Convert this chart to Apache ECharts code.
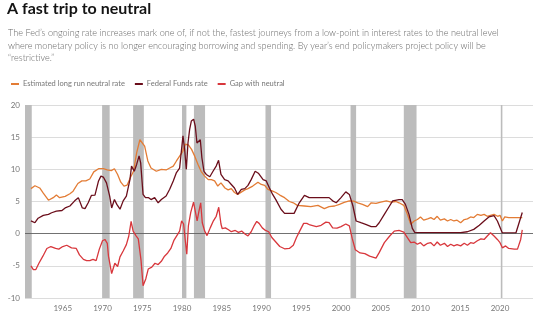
<!DOCTYPE html>
<html>
<head>
<meta charset="utf-8">
<script src="https://cdn.jsdelivr.net/npm/echarts@6/dist/echarts.min.js"></script>
<style>
html,body{margin:0;padding:0;background:#fff;}
#chart{width:546px;height:324px;}
</style>
</head>
<body>
<div id="chart"></div>
<script>
// ---- Data ----
const titleText = "A fast trip to neutral";
const subtitleLines = [
  "The Fed\u2019s ongoing rate increases mark one of, if not the, fastest journeys from a low-point in interest rates to the neutral level",
  "where monetary policy is no longer encouraging borrowing and spending. By year\u2019s end policymakers project policy will be",
  "\u201crestrictive.\u201d"
];
const seriesNames = ["Estimated long run neutral rate", "Federal Funds rate", "Gap with neutral"];
const xTickLabels = [1965, 1970, 1975, 1980, 1985, 1990, 1995, 2000, 2005, 2010, 2015, 2020];

const recessionStart = [1960.25, 1969.95, 1973.85, 1980.0, 1981.5, 1990.5, 2001.2, 2007.9, 2020.1];
const recessionEnd   = [1961.1, 1970.9, 1975.2, 1980.55, 1982.9, 1991.2, 2001.9, 2009.5, 2020.3];

const neutralX = [1961.0,1961.5,1962.1,1962.55,1963.2,1963.8,1964.2,1964.6,1965.3,1965.9,1966.3,1966.9,1967.4,1967.9,1968.4,1968.9,1969.5,1970.1,1970.6,1971.1,1971.5,1971.9,1972.3,1972.7,1973.1,1973.5,1973.9,1974.3,1974.7,1974.9,1975.3,1975.7,1976.1,1976.77,1977.4,1978.0,1978.45,1978.9,1979.3,1979.7,1980.1,1980.4,1980.8,1981.2,1981.6,1982.0,1982.4,1982.85,1983.3,1983.7,1984.1,1984.5,1984.9,1985.4,1985.8,1986.2,1986.6,1987.0,1987.5,1987.9,1988.3,1988.9,1989.55,1989.97,1990.4,1990.8,1991.4,1991.8,1992.3,1992.9,1993.5,1994.0,1994.5,1995.4,1996.2,1997.1,1997.9,1998.5,1999.2,1999.8,2000.4,2001.05,2001.6,2002.1,2002.7,2003.35,2003.8,2004.4,2005.0,2005.7,2006.3,2006.9,2007.3,2007.9,2008.35,2008.77,2009.2,2009.6,2010.0,2010.4,2010.9,2011.3,2011.7,2012.1,2012.5,2013.0,2013.4,2013.8,2014.2,2014.6,2015.05,2015.5,2015.9,2016.3,2016.7,2017.15,2017.6,2018.0,2018.4,2018.8,2019.25,2019.7,2020.0,2020.3,2020.6,2021.1,2021.8,2022.4,2022.8];
const neutralY = [7.0,7.45,7.1,6.3,5.2,5.6,6.0,5.6,5.8,6.2,6.6,7.8,8.2,8.2,8.5,9.6,10.1,10.1,9.9,9.8,10.1,9.2,8.0,7.4,7.55,8.7,9.7,12.6,14.6,14.7,13.6,11.3,10.2,9.7,10.0,9.9,10.2,10.5,11.3,12.05,12.8,13.9,13.8,13.1,12.05,10.8,9.7,8.95,8.4,8.4,8.2,7.4,7.9,7.1,6.8,7.0,6.4,6.1,6.5,6.8,7.0,7.4,8.0,7.65,7.5,6.9,6.6,6.4,6.0,5.6,5.0,4.8,4.4,4.3,4.2,4.4,3.9,4.2,4.3,4.55,4.85,5.1,5.05,4.8,4.55,4.2,4.8,4.7,4.9,5.1,4.9,5.0,4.8,4.4,3.0,1.45,1.97,2.2,2.6,2.1,2.3,2.5,2.2,2.7,2.1,2.3,1.97,2.2,1.97,2.1,1.7,2.2,2.3,2.6,2.5,3.0,2.85,3.0,2.7,2.85,3.0,2.7,2.85,1.97,2.6,2.5,2.5,2.5,2.5];

const fedX = [1961.0,1961.5,1961.9,1962.55,1963.2,1963.6,1964.2,1964.9,1965.3,1965.9,1966.5,1966.96,1967.46,1967.8,1968.2,1968.6,1969.05,1969.5,1969.8,1970.1,1970.5,1970.9,1971.15,1971.5,1971.8,1972.2,1972.6,1973.0,1973.45,1973.65,1974.0,1974.3,1974.6,1974.8,1975.1,1975.4,1975.8,1976.1,1976.56,1977.0,1977.4,1978.0,1978.45,1978.9,1979.3,1979.7,1979.9,1980.12,1980.33,1980.54,1980.75,1980.96,1981.17,1981.46,1981.67,1981.88,1982.1,1982.3,1982.5,1982.76,1983.05,1983.5,1983.9,1984.3,1984.6,1984.9,1985.36,1985.8,1986.2,1986.6,1987.0,1987.46,1987.9,1988.3,1988.7,1989.2,1989.6,1990.2,1990.6,1991.0,1991.4,1991.8,1992.45,1992.9,1994.1,1994.75,1995.4,1996.0,1997.1,1998.5,1998.95,1999.4,2000.0,2000.6,2001.05,2001.5,2001.9,2002.5,2003.1,2003.8,2004.4,2004.8,2005.45,2006.1,2006.5,2007.3,2007.7,2008.1,2008.55,2008.97,2009.27,2015.05,2015.9,2016.7,2017.4,2018.0,2018.6,2019.25,2019.67,2020.1,2020.3,2022.0,2022.4,2022.8];
const fedY = [2.0,1.7,2.4,2.85,3.0,3.25,3.5,3.6,4.0,4.3,5.1,5.6,4.0,3.9,4.8,5.95,6.0,8.2,8.95,8.8,7.9,5.85,4.0,5.3,4.55,3.8,5.1,5.85,8.4,10.5,9.7,10.8,12.1,11.0,6.1,5.6,5.6,5.3,5.6,4.8,5.3,5.85,6.9,8.2,9.5,10.2,12.6,15.2,13.1,10.0,14.1,16.2,17.5,17.8,16.7,14.1,14.4,14.6,11.8,9.7,9.2,8.85,9.7,10.5,11.4,9.2,8.4,8.2,7.65,7.1,6.1,6.9,7.0,7.5,8.4,9.7,9.4,8.4,8.2,7.1,6.1,5.3,3.8,3.15,3.15,4.8,5.95,5.6,5.6,5.6,5.1,4.8,5.6,6.5,6.1,4.3,1.97,1.7,1.45,1.1,1.1,1.7,3.0,4.3,5.1,5.3,5.3,4.55,3.0,0.83,0.2,0.15,0.3,0.67,1.3,1.97,2.6,2.8,1.97,0.67,0.1,0.1,1.7,3.3];

const gapX = [1961.0,1961.3,1961.6,1962.0,1962.5,1963.0,1963.5,1964.1,1964.5,1965.0,1965.5,1966.1,1966.7,1967.1,1967.6,1968.0,1968.4,1968.8,1969.2,1969.6,1970.0,1970.3,1970.6,1970.75,1971.15,1971.55,1971.9,1972.2,1972.6,1973.0,1973.3,1973.6,1973.85,1974.2,1974.5,1974.85,1975.1,1975.45,1975.75,1976.2,1976.6,1977.0,1977.4,1977.8,1978.2,1978.6,1979.0,1979.35,1979.7,1979.95,1980.2,1980.4,1980.6,1980.8,1981.1,1981.45,1981.65,1981.9,1982.1,1982.35,1982.55,1982.85,1983.15,1983.55,1983.95,1984.3,1984.62,1984.9,1985.05,1985.45,1985.85,1986.2,1986.7,1987.1,1987.5,1987.96,1988.3,1988.7,1989.1,1989.4,1989.7,1990.1,1990.5,1990.9,1991.3,1991.8,1992.3,1992.9,1993.5,1994.0,1994.4,1994.8,1995.3,1995.7,1996.1,1996.9,1997.5,1998.1,1998.5,1998.95,1999.5,2000.0,2000.6,2001.05,2001.4,2001.8,2002.4,2003.0,2003.6,2004.4,2004.8,2005.45,2006.1,2006.7,2007.3,2007.9,2008.35,2008.77,2009.2,2009.6,2010.0,2010.4,2010.9,2011.3,2011.7,2012.1,2012.5,2013.0,2013.4,2013.8,2014.2,2014.6,2015.05,2015.5,2015.9,2016.3,2016.7,2017.15,2017.6,2018.0,2018.4,2018.8,2019.25,2019.67,2020.0,2020.3,2020.7,2021.1,2021.8,2022.2,2022.6,2022.8];
const gapY = [-5.0,-5.6,-5.6,-4.6,-3.5,-2.3,-2.0,-2.3,-2.4,-2.0,-1.8,-2.2,-2.3,-3.3,-4.0,-4.2,-4.2,-4.0,-4.2,-2.4,-1.1,-0.9,-1.5,-3.5,-6.2,-4.6,-5.1,-3.6,-2.7,-1.7,-0.4,1.9,0.4,-0.3,-0.8,-4.2,-8.1,-7.0,-5.5,-5.2,-4.6,-4.8,-4.3,-3.5,-3.0,-2.3,-1.0,-0.3,0.4,2.0,1.5,-0.9,-3.2,1.2,3.3,4.9,4.8,2.0,3.3,4.8,1.7,0.4,-0.3,0.9,2.0,2.7,4.1,1.5,0.8,0.9,0.6,0.3,0.5,0.2,0.4,-0.1,-0.35,0.3,1.3,1.9,1.6,0.9,0.5,0.3,-0.6,-1.3,-2.0,-2.35,-2.3,-1.8,-0.6,0.4,1.6,1.6,1.35,1.1,1.3,1.8,1.7,0.9,0.85,1.1,1.5,1.2,-0.7,-2.5,-3.0,-3.1,-3.5,-3.8,-2.95,-1.4,-0.4,0.4,0.5,0.25,-0.6,-1.4,-1.3,-1.65,-1.4,-1.9,-1.5,-1.4,-1.9,-1.3,-1.8,-1.5,-2.0,-1.65,-1.9,-1.7,-1.9,-1.5,-1.8,-1.4,-1.5,-1.1,-0.8,-0.9,-0.36,0.15,-0.36,-0.9,-1.4,-2.2,-1.9,-2.3,-2.4,-2.4,-0.9,0.6];

// ---- Build chart ----
const FONT = "Lato, 'Noto Sans', sans-serif";
const colors = ["#e37c35", "#6b0e1b", "#d8373c"];

function zip(xs, ys) { return xs.map((x, i) => [x, ys[i]]); }

const recessionAreas = recessionStart.map((s, i) => [{ xAxis: s }, { xAxis: recessionEnd[i] }]);

const chart = echarts.init(document.getElementById('chart'), null, { renderer: 'canvas' });
chart.setOption({
  animation: false,
  textStyle: { fontFamily: FONT },
  grid: { left: 25, right: 13, top: 105, bottom: 26, containLabel: false },
  graphic: [
    { type: 'text', left: 7, top: 1, style: { text: titleText, font: "bold 16px " + FONT, fill: '#141414' } },
    { type: 'text', left: 8, top: 27, style: { text: subtitleLines.join("\n"), font: "300 9.1px " + FONT, fill: '#6a6a6a', lineHeight: 12.5 } }
  ],
  legend: {
    left: 6, top: 75, itemWidth: 8, itemHeight: 2, itemGap: 10, icon: 'rect',
    textStyle: { fontSize: 7.5, color: '#777', fontFamily: FONT, padding: [0, 0, 0, -1] },
    data: seriesNames
  },
  xAxis: {
    type: 'value', min: 1960.25, max: 2024.15,
    axisLine: { show: false }, axisTick: { show: false }, splitLine: { show: false },
    axisLabel: { customValues: xTickLabels, formatter: v => String(Math.round(v)), fontSize: 8, color: '#777', margin: 6 }
  },
  yAxis: {
    type: 'value', min: -10, max: 20, interval: 5,
    axisLine: { show: false }, axisTick: { show: false },
    splitLine: { lineStyle: { color: '#dcdcdc', width: 1 } },
    axisLabel: { fontSize: 8, color: '#777', margin: 5 }
  },
  series: [
    {
      name: seriesNames[0], type: 'line', data: zip(neutralX, neutralY), showSymbol: false,
      lineStyle: { color: colors[0], width: 1.3 }, itemStyle: { color: colors[0] }, z: 3,
      markArea: { silent: true, itemStyle: { color: '#bcbcbc' }, data: recessionAreas },
      markLine: { silent: true, symbol: 'none', label: { show: false }, lineStyle: { color: '#555', width: 0.8, type: 'solid' }, data: [{ yAxis: 0 }] }
    },
    {
      name: seriesNames[1], type: 'line', data: zip(fedX, fedY), showSymbol: false,
      lineStyle: { color: colors[1], width: 1.3 }, itemStyle: { color: colors[1] }, z: 4
    },
    {
      name: seriesNames[2], type: 'line', data: zip(gapX, gapY), showSymbol: false,
      lineStyle: { color: colors[2], width: 1.3 }, itemStyle: { color: colors[2] }, z: 5
    }
  ]
});
</script>
</body>
</html>
